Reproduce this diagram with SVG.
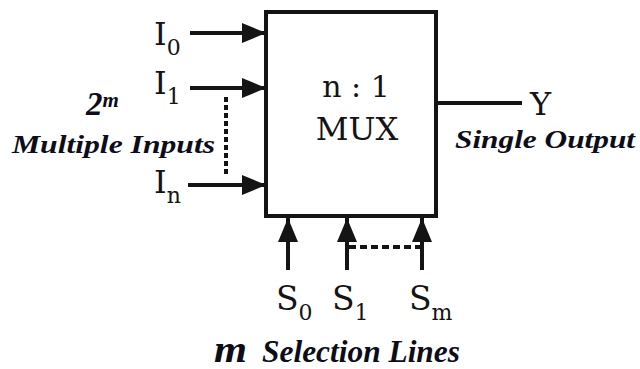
<svg xmlns="http://www.w3.org/2000/svg" width="640" height="369" viewBox="0 0 640 369">
  <defs>
    <marker id="ah" markerUnits="userSpaceOnUse" markerWidth="24" markerHeight="20" refX="24" refY="10" orient="auto">
      <path d="M0,0 L24,10 L0,20 Z" fill="#141414"/>
    </marker>
    <style>
      .ln { stroke: #141414; stroke-width: 4; fill: none; }
      .arr { marker-end: url(#ah); }
      .lbl { font-family: "DejaVu Serif", "Liberation Serif", serif; fill: #141414; }
      .note { font-family: "Liberation Serif", "DejaVu Serif", serif; font-weight: bold; font-style: italic; fill: #0d0d1a; }
    </style>
  </defs>
  <rect width="640" height="369" fill="#ffffff"/>

  <g id="connectors">
    <line class="ln arr" x1="190" y1="33" x2="266" y2="33"/>
    <line class="ln arr" x1="190" y1="88" x2="266" y2="88"/>
    <line class="ln arr" x1="188" y1="185" x2="266" y2="185"/>
    <line class="ln" x1="226" y1="97" x2="226" y2="176" stroke-dasharray="5 3"/>
    <line class="ln" x1="436" y1="103" x2="522" y2="103"/>
    <line class="ln arr" x1="288" y1="270" x2="288" y2="218"/>
    <line class="ln arr" x1="347" y1="270" x2="347" y2="218"/>
    <line class="ln arr" x1="422" y1="270" x2="422" y2="218"/>
    <line class="ln" x1="349" y1="247" x2="420" y2="247" stroke-dasharray="7 4"/>
  </g>

  <g id="mux">
    <rect class="ln" x="266" y="12" width="170" height="204"/>
    <text class="lbl" x="356" y="97" font-size="30" text-anchor="middle">n : 1</text>
    <text class="lbl" x="357" y="140" font-size="32" text-anchor="middle">MUX</text>
  </g>

  <g id="inputs">
    <text class="lbl" x="154" y="45" font-size="32">I<tspan font-size="22" dy="10">0</tspan></text>
    <text class="lbl" x="154" y="94" font-size="32">I<tspan font-size="22" dy="10">1</tspan></text>
    <text class="lbl" x="154" y="193" font-size="32">I<tspan font-size="22" dy="10">n</tspan></text>
    <text class="note" x="86" y="115" font-size="33">2<tspan font-size="21" dy="-8">m</tspan></text>
    <text class="note" x="12" y="153" font-size="25" textLength="203" lengthAdjust="spacingAndGlyphs">Multiple Inputs</text>
  </g>

  <g id="output">
    <text class="lbl" x="530" y="115" font-size="32">Y</text>
    <text class="note" x="455" y="148" font-size="25" textLength="180" lengthAdjust="spacingAndGlyphs">Single Output</text>
  </g>

  <g id="selects">
    <text class="lbl" x="276" y="310" font-size="33">S<tspan font-size="22" dy="10">0</tspan></text>
    <text class="lbl" x="332" y="310" font-size="33">S<tspan font-size="22" dy="10">1</tspan></text>
    <text class="lbl" x="409" y="310" font-size="33">S<tspan font-size="22" dy="10">m</tspan></text>
    <text class="note" x="214" y="362" font-size="38" textLength="33" lengthAdjust="spacingAndGlyphs">m</text>
    <text class="note" x="262" y="362" font-size="31" textLength="198" lengthAdjust="spacingAndGlyphs">Selection Lines</text>
  </g>
</svg>
